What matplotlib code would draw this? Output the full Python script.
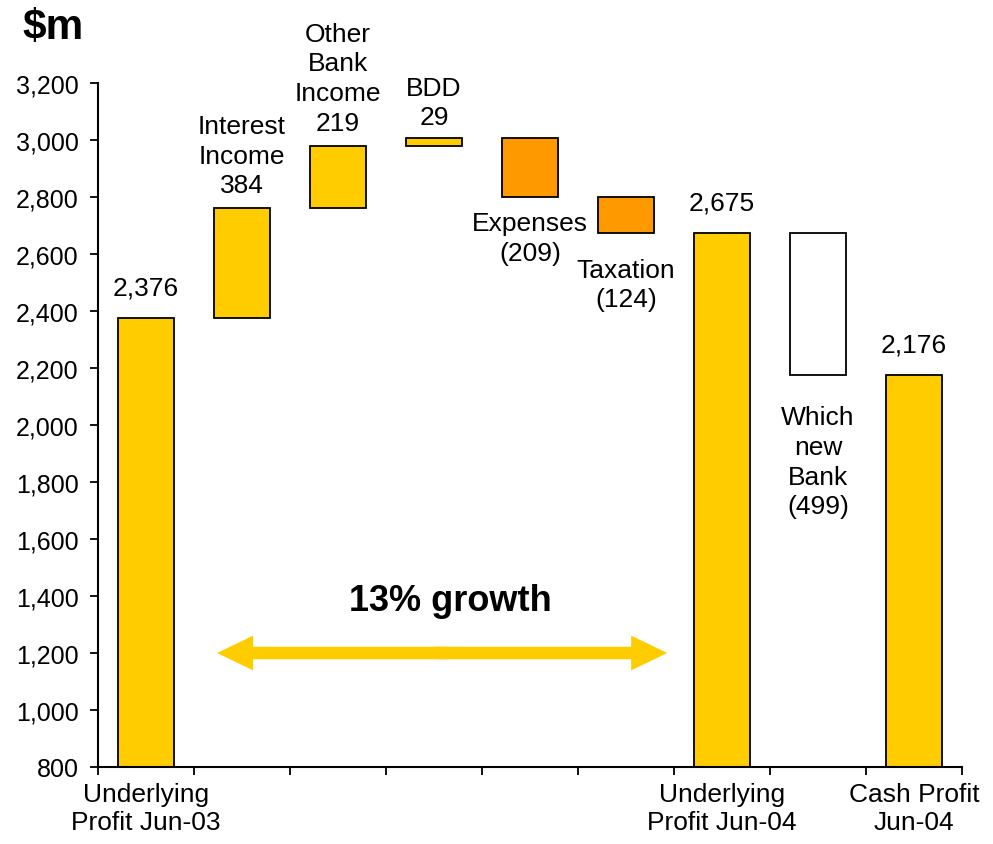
import matplotlib
matplotlib.use("Agg")
import matplotlib.pyplot as plt
from matplotlib.ticker import FuncFormatter, FixedLocator
import numpy as np

plt.rcParams['font.family'] = ['Liberation Sans', 'DejaVu Sans']

categories = ["Underlying Profit Jun-03", "Interest Income", "Other Bank Income", "BDD",
              "Expenses", "Taxation", "Underlying Profit Jun-04", "Which new Bank",
              "Cash Profit Jun-04"]
values = [2376, 384, 219, 29, -209, -124, 2675, -499, 2176]
kinds = ["total", "delta", "delta", "delta", "delta", "delta", "total", "adjust", "total"]
bar_labels = ["2,376", "Interest\nIncome\n384", "Other\nBank\nIncome\n219", "BDD\n29",
              "Expenses\n(209)", "Taxation\n(124)", "2,675", "Which\nnew\nBank\n(499)", "2,176"]
tick_labels = {0: "Underlying\nProfit Jun-03", 6: "Underlying\nProfit Jun-04", 8: "Cash Profit\nJun-04"}
growth_text = "13% growth"
arrow_y = 1200
y_ticks = list(range(800, 3201, 200))

YELLOW = "#FFCC00"
ORANGE = "#FF9900"

fig = plt.figure(figsize=(9.93, 8.45), dpi=100)
ax = fig.add_axes([98/993, 77/845, 864/993, 684/845])

x = np.arange(len(values))
bottoms, heights, colors = [], [], []
running = 0
for v, k in zip(values, kinds):
    if k == "total":
        bottoms.append(0); heights.append(v); colors.append(YELLOW)
        running = v
    else:
        start = running
        running = running + v
        bottoms.append(min(start, running)); heights.append(abs(v))
        if k == "adjust":
            colors.append("white")
        else:
            colors.append(YELLOW if v > 0 else ORANGE)

ax.bar(x, heights, bottom=bottoms, width=0.58, color=colors, edgecolor="black", linewidth=1.3, zorder=2)

ax.set_xlim(-0.5, len(values) - 0.5)
ax.set_ylim(800, 3200)

# labels
below_offsets = {4: 10, 5: 18, 7: 22}
above_offsets = {0: 13, 6: 13, 8: 13, 3: 6}
for i, (b, h, lab) in enumerate(zip(bottoms, heights, bar_labels)):
    if kinds[i] != "total" and values[i] < 0:
        ax.annotate(lab, (i, b), xytext=(0, -below_offsets.get(i, 10)), textcoords="offset points",
                    ha="center", va="top", fontsize=19, linespacing=1.3)
    else:
        ax.annotate(lab, (i, b + h), xytext=(0, above_offsets.get(i, 8)), textcoords="offset points",
                    ha="center", va="bottom", fontsize=19, linespacing=1.3)

# spines and ticks
for s in ["top", "right"]:
    ax.spines[s].set_visible(False)
for s in ["left", "bottom"]:
    ax.spines[s].set_linewidth(1.5)

ax.set_yticks(y_ticks)
ax.yaxis.set_major_formatter(FuncFormatter(lambda v, p: f"{int(v):,}"))
ax.tick_params(axis="y", direction="out", length=6, width=1.3, labelsize=18, pad=8)

ax.set_xticks(list(tick_labels.keys()))
ax.set_xticklabels(list(tick_labels.values()), fontsize=19, linespacing=1.2)
ax.tick_params(axis="x", which="major", length=0, pad=11)
ax.xaxis.set_minor_locator(FixedLocator(np.arange(-0.5, len(values), 1.0)))
ax.tick_params(axis="x", which="minor", direction="out", length=6, width=1.3)

# growth arrow
left_end, right_end = 0.74, 5.43
mid = (left_end + right_end) / 2
for end, start in ((left_end, mid + 0.05), (right_end, mid - 0.05)):
    ax.annotate("", xy=(end, arrow_y), xytext=(start, arrow_y),
                arrowprops=dict(arrowstyle="simple,head_length=1.3,head_width=1.25,tail_width=0.45",
                                color=YELLOW, lw=0, mutation_scale=20, shrinkA=0, shrinkB=0))
ax.text(3.17, 1385, growth_text, ha="center", va="center", fontsize=26, fontweight="bold")

fig.text(22/993, 1 - 8/845, "$m", ha="left", va="top", fontsize=30.5, fontweight="bold")

fig.savefig("out.png", dpi=100)
